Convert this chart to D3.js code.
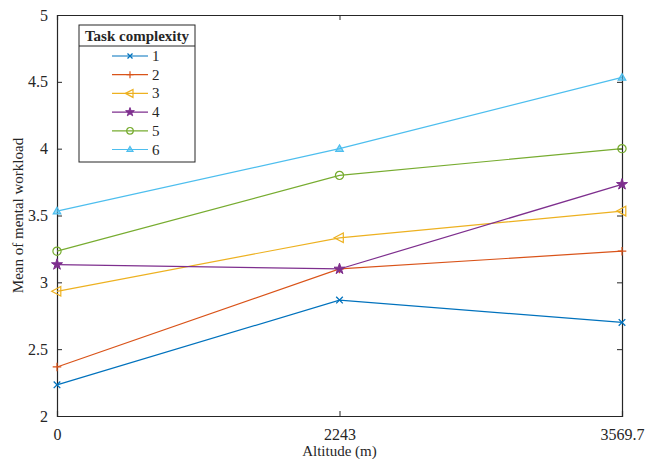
<!DOCTYPE html>
<html>
<head>
<meta charset="utf-8">
<script src="https://cdn.jsdelivr.net/npm/d3@7"></script>
<style>
  body { margin: 0; background: #fff; }
  svg text { font-family: "Times New Roman", "Liberation Serif", Tinos, serif !important; fill: #262626; }
</style>
</head>
<body>
<svg id="chart" width="657" height="459" font-family="Times New Roman, Liberation Serif, serif"></svg>
<script>
var altitudes = ["0", "2243", "3569.7"];
var seriesNames = ["1", "2", "3", "4", "5", "6"];
var series1 = [2.233, 2.867, 2.7];
var series2 = [2.367, 3.1, 3.233];
var series3 = [2.933, 3.333, 3.533];
var series4 = [3.133, 3.1, 3.733];
var series5 = [3.233, 3.8, 4.0];
var series6 = [3.533, 4.0, 4.533];
var yTicks = [2, 2.5, 3, 3.5, 4, 4.5, 5];

var colors = ["#0072BD", "#D95319", "#EDB120", "#7E2F8E", "#77AC30", "#4DBEEE"];
var markers = ["x", "plus", "triLeft", "star", "circle", "triUp"];
var allSeries = [series1, series2, series3, series4, series5, series6];

var fontStack = "'Times New Roman', 'Liberation Serif', serif";

var margin = {left: 57, right: 35, top: 15, bottom: 43};
var width = 657 - margin.left - margin.right;
var height = 459 - margin.top - margin.bottom;

var svg = d3.select("#chart");
var g = svg.append("g")
  .attr("transform", `translate(${margin.left}, ${margin.top})`);

var xScale = d3.scalePoint()
  .domain(altitudes)
  .range([0, width]);

var yScale = d3.scaleLinear()
  .domain([2, 5])
  .range([height, 0]);

// axes, MATLAB style: ticks inside, box all round
var axisColor = "#262626";
var yAxis = g.append("g")
  .call(d3.axisLeft(yScale).tickValues(yTicks).tickSize(-5).tickPadding(9).tickFormat(d3.format("")));
var yAxisR = g.append("g")
  .attr("transform", `translate(${width}, 0)`)
  .call(d3.axisRight(yScale).tickValues(yTicks).tickSize(-5).tickFormat(""));
var xAxis = g.append("g")
  .attr("transform", `translate(0, ${height})`)
  .call(d3.axisBottom(xScale).tickSize(-5).tickPadding(13));
var xAxisT = g.append("g")
  .call(d3.axisTop(xScale).tickSize(-5).tickFormat(""));

[yAxis, yAxisR, xAxis, xAxisT].forEach(function(a) {
  a.attr("font-family", fontStack);
  a.selectAll("path").attr("stroke", axisColor).attr("stroke-width", 1.2);
  a.selectAll("line").attr("stroke", axisColor);
  a.selectAll("text")
    .style("font-size", "16px")
    .attr("fill", axisColor);
});

// axis labels
g.append("text")
  .attr("x", width / 2)
  .attr("y", height + 40)
  .attr("text-anchor", "middle")
  .style("font-size", "15px")
  .text("Altitude (m)");

g.append("text")
  .attr("transform", `translate(-34, ${height / 2}) rotate(-90)`)
  .attr("text-anchor", "middle")
  .style("font-size", "15px")
  .text("Mean of mental workload");

// marker drawing
function drawMarker(sel, type, color, size) {
  var s = size;
  if (type === "x") {
    sel.append("path").attr("d", `M${-s + 0.5},${-s + 0.5}L${s - 0.5},${s - 0.5}M${-s + 0.5},${s - 0.5}L${s - 0.5},${-s + 0.5}`)
      .attr("stroke", color).attr("stroke-width", 1.3).attr("fill", "none");
  } else if (type === "plus") {
    sel.append("path").attr("d", `M${-s - 0.5},0L${s + 0.5},0M0,${-s - 0.5}L0,${s + 0.5}`)
      .attr("stroke", color).attr("stroke-width", 1.2).attr("fill", "none");
  } else if (type === "triLeft") {
    sel.append("path").attr("d", `M${-s - 1.5},0L${s},${-s - 1}L${s},${s + 1}Z`)
      .attr("stroke", color).attr("stroke-width", 1.2).attr("fill", "none");
  } else if (type === "star") {
    sel.append("path").attr("d", d3.symbol(d3.symbolStar, s * s * 2.6)())
      .attr("stroke", color).attr("stroke-width", 1).attr("fill", color);
  } else if (type === "circle") {
    sel.append("circle").attr("r", s + 0.3)
      .attr("stroke", color).attr("stroke-width", 1.2).attr("fill", "none");
  } else if (type === "triUp") {
    sel.append("path").attr("d", `M0,${-s}L${s},${s - 1}L${-s},${s - 1}Z`)
      .attr("stroke", color).attr("stroke-width", 1.2).attr("fill", color).attr("fill-opacity", 0.6);
  }
}

var line = d3.line()
  .x(function(d, i) { return xScale(altitudes[i]); })
  .y(function(d) { return yScale(d); });

allSeries.forEach(function(vals, k) {
  g.append("path")
    .datum(vals)
    .attr("d", line)
    .attr("fill", "none")
    .attr("stroke", colors[k])
    .attr("stroke-width", 1.2);
  vals.forEach(function(v, i) {
    var m = g.append("g")
      .attr("transform", `translate(${xScale(altitudes[i])}, ${yScale(v)})`);
    drawMarker(m, markers[k], colors[k], 3.8);
  });
});

// legend
var legend = svg.append("g").attr("transform", "translate(79, 25)");
legend.append("rect")
  .attr("width", 116).attr("height", 137)
  .attr("fill", "#fff").attr("stroke", axisColor).attr("stroke-width", 1);
legend.append("line")
  .attr("x1", 0).attr("x2", 116).attr("y1", 21).attr("y2", 21)
  .attr("stroke", axisColor);
legend.append("text")
  .attr("x", 58).attr("y", 16)
  .attr("text-anchor", "middle")
  .style("font-size", "15px")
  .style("font-weight", "bold")
  .text("Task complexity");

seriesNames.forEach(function(name, k) {
  var yy = 31 + k * 18.7;
  var row = legend.append("g").attr("transform", `translate(0, ${yy})`);
  row.append("line")
    .attr("x1", 33).attr("x2", 69).attr("y1", 0).attr("y2", 0)
    .attr("stroke", colors[k]).attr("stroke-width", 1.2);
  var m = row.append("g").attr("transform", "translate(51, 0)");
  drawMarker(m, markers[k], colors[k], 3);
  row.append("text")
    .attr("x", 73).attr("y", 5)
    .style("font-size", "15px")
    .text(name);
});
</script>
</body>
</html>
